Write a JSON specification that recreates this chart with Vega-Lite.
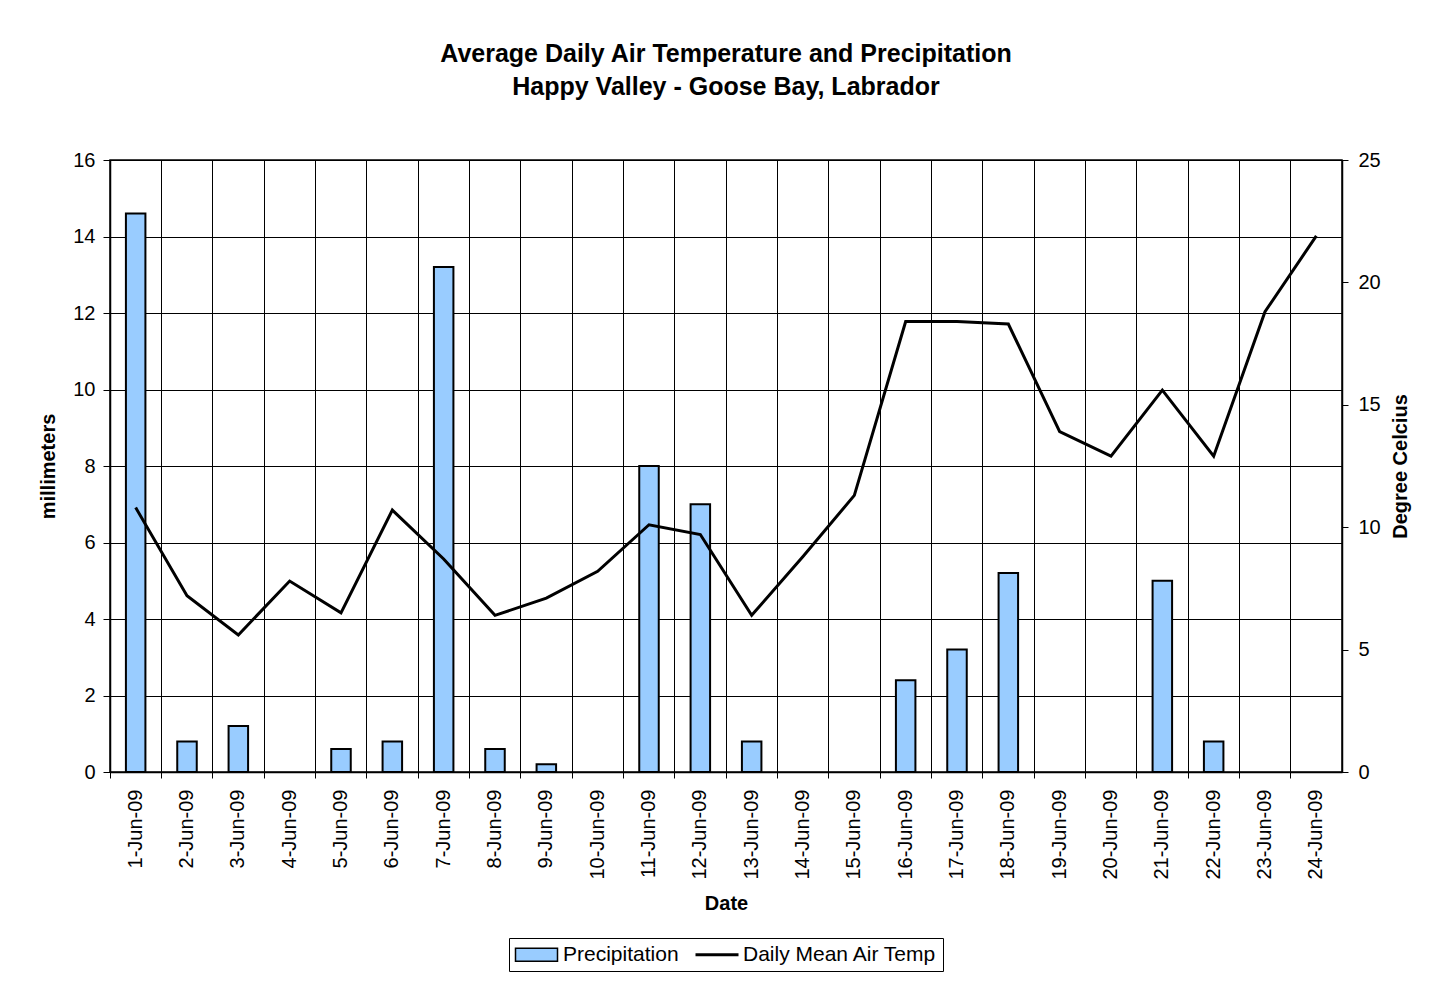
{
  "$schema": "https://vega.github.io/schema/vega-lite/v6.json",
  "autosize": "none",
  "width": 1232,
  "height": 612,
  "padding": {"left": 110, "top": 160, "right": 110, "bottom": 214},
  "background": "white",
  "config": {
    "font": "Liberation Sans",
    "view": {"stroke": "black", "strokeWidth": 1.5},
    "axis": {
      "labelFont": "Liberation Sans",
      "titleFont": "Liberation Sans",
      "labelColor": "black",
      "titleColor": "black",
      "labelFontSize": 20,
      "titleFontSize": 20,
      "titleFontWeight": "bold",
      "domainColor": "black",
      "tickColor": "black",
      "gridColor": "black",
      "gridOpacity": 1,
      "domainWidth": 1.5
    }
  },
  "title": {
    "text": ["Average Daily Air Temperature and Precipitation", "Happy Valley - Goose Bay, Labrador"],
    "font": "Liberation Sans",
    "fontSize": 25,
    "fontWeight": "bold",
    "color": "black",
    "lineHeight": 33,
    "anchor": "middle",
    "frame": "group",
    "offset": 50
  },
  "data": {
    "values": [
      {"date": "1-Jun-09", "precip": 14.6, "temp": 10.8},
      {"date": "2-Jun-09", "precip": 0.8, "temp": 7.2},
      {"date": "3-Jun-09", "precip": 1.2, "temp": 5.6},
      {"date": "4-Jun-09", "precip": 0, "temp": 7.8},
      {"date": "5-Jun-09", "precip": 0.6, "temp": 6.5},
      {"date": "6-Jun-09", "precip": 0.8, "temp": 10.7},
      {"date": "7-Jun-09", "precip": 13.2, "temp": 8.7},
      {"date": "8-Jun-09", "precip": 0.6, "temp": 6.4},
      {"date": "9-Jun-09", "precip": 0.2, "temp": 7.1},
      {"date": "10-Jun-09", "precip": 0, "temp": 8.2},
      {"date": "11-Jun-09", "precip": 8.0, "temp": 10.1},
      {"date": "12-Jun-09", "precip": 7.0, "temp": 9.7},
      {"date": "13-Jun-09", "precip": 0.8, "temp": 6.4},
      {"date": "14-Jun-09", "precip": 0, "temp": 8.8},
      {"date": "15-Jun-09", "precip": 0, "temp": 11.3},
      {"date": "16-Jun-09", "precip": 2.4, "temp": 18.4},
      {"date": "17-Jun-09", "precip": 3.2, "temp": 18.4},
      {"date": "18-Jun-09", "precip": 5.2, "temp": 18.3},
      {"date": "19-Jun-09", "precip": 0, "temp": 13.9},
      {"date": "20-Jun-09", "precip": 0, "temp": 12.9},
      {"date": "21-Jun-09", "precip": 5.0, "temp": 15.6},
      {"date": "22-Jun-09", "precip": 0.8, "temp": 12.9},
      {"date": "23-Jun-09", "precip": 0, "temp": 18.8},
      {"date": "24-Jun-09", "precip": 0, "temp": 21.9}
    ]
  },
  "encoding": {
    "x": {
      "field": "date",
      "type": "ordinal",
      "sort": null,
      "scale": {
        "domain": ["1-Jun-09", "2-Jun-09", "3-Jun-09", "4-Jun-09", "5-Jun-09", "6-Jun-09", "7-Jun-09", "8-Jun-09", "9-Jun-09", "10-Jun-09", "11-Jun-09", "12-Jun-09", "13-Jun-09", "14-Jun-09", "15-Jun-09", "16-Jun-09", "17-Jun-09", "18-Jun-09", "19-Jun-09", "20-Jun-09", "21-Jun-09", "22-Jun-09", "23-Jun-09", "24-Jun-09"],
        "paddingInner": 0,
        "paddingOuter": 0
      },
      "axis": {
        "title": "Date",
        "bandPosition": 0,
        "grid": true,
        "labelAngle": 270,
        "labelPadding": 11,
        "tickSize": 6,
        "titlePadding": 14
      }
    }
  },
  "layer": [
    {
      "transform": [{"filter": "datum.precip > 0"}],
      "mark": {"type": "bar", "stroke": "black", "strokeWidth": 2, "width": {"band": 0.38}},
      "encoding": {
        "y": {
          "field": "precip",
          "type": "quantitative",
          "scale": {"domain": [0, 16], "nice": false},
          "axis": {
            "title": "millimeters",
            "values": [0, 2, 4, 6, 8, 10, 12, 14, 16],
            "grid": true,
            "tickSize": 7,
            "labelPadding": 8,
            "titlePadding": 14
          }
        },
        "color": {
          "datum": "Precipitation",
          "scale": {"domain": ["Precipitation", "Daily Mean Air Temp"], "range": ["#99CCFF", "#000000"]},
          "legend": {
            "title": null,
            "orient": "none",
            "legendX": 399,
            "legendY": 778,
            "direction": "horizontal",
            "strokeColor": "black",
            "fillColor": "white",
            "padding": 6,
            "labelFont": "Liberation Sans",
            "labelFontSize": 21,
            "labelColor": "black",
            "labelLimit": 400,
            "labelOffset": 27,
            "columnPadding": 10,
            "symbolSize": 400,
            "symbolType": {"expr": "datum.value === 'Precipitation' ? 'M-1,-0.65H3.2V0.65H-1Z' : 'M-1,0H3.3'"},
            "symbolStrokeWidth": {"expr": "datum.value === 'Precipitation' ? 1.5 : 3"},
            "encode": {
              "symbols": {
                "stroke": {"value": "black"},
                "opacity": {"value": 1}
              }
            }
          }
        }
      }
    },
    {
      "mark": {"type": "line", "strokeWidth": 3, "stroke": "black"},
      "encoding": {
        "y": {
          "field": "temp",
          "type": "quantitative",
          "scale": {"domain": [0, 25], "nice": false},
          "axis": {
            "title": "Degree Celcius",
            "orient": "right",
            "values": [0, 5, 10, 15, 20, 25],
            "grid": false,
            "tickSize": 6,
            "labelPadding": 10,
            "titleAngle": 270,
            "titlePadding": 30
          }
        }
      }
    }
  ],
  "resolve": {"scale": {"y": "independent"}}
}
